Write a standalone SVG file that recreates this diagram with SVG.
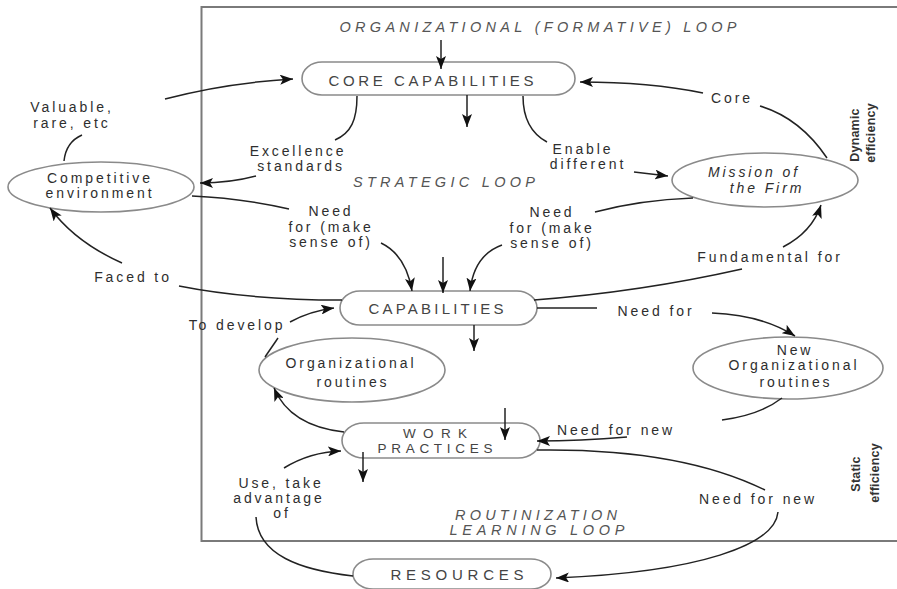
<svg xmlns="http://www.w3.org/2000/svg" width="897" height="589" viewBox="0 0 897 589">
<defs>
<style>
.frame{fill:none;stroke:#7a7a7a;stroke-width:2}
.node{fill:#fff;stroke:#8a8a8a;stroke-width:1.6}
.lbl{font-family:"Liberation Sans",Arial,sans-serif;font-size:14px;letter-spacing:2.9px;fill:#2e2e2e;text-anchor:middle}
.ntxt{font-family:"Liberation Sans",Arial,sans-serif;font-size:15px;fill:#444;text-anchor:middle}
.small{font-size:13.5px}
.it{font-style:italic}
.head{font-family:"Liberation Sans",Arial,sans-serif;font-size:14.5px;font-style:italic;fill:#555;text-anchor:middle}
.side{font-family:"Liberation Sans",Arial,sans-serif;font-size:12.5px;font-weight:bold;fill:#333;text-anchor:middle;letter-spacing:0.2px}
.c{fill:none;stroke:#222;stroke-width:1.5}
.ca{fill:none;stroke:#222;stroke-width:1.5;marker-end:url(#ah)}
</style>
<marker id="ah" markerUnits="userSpaceOnUse" markerWidth="14" markerHeight="10" refX="13" refY="5" orient="auto">
<path d="M0,0 L13,5 L0,10 L3,5 z" fill="#111"/>
</marker>
</defs>
<rect width="897" height="589" fill="#fff"/>
<g id="frame">
<path class="frame" d="M897,7 L201.5,7 L201.5,541 L897,541"/>
</g>
<g id="headings">
<text class="head" x="538" y="32" textLength="397" lengthAdjust="spacing">ORGANIZATIONAL (FORMATIVE) LOOP</text>
<text class="head" x="444" y="187" textLength="182" lengthAdjust="spacing">STRATEGIC LOOP</text>
<text class="head" x="536" y="520" textLength="162" lengthAdjust="spacing">ROUTINIZATION</text>
<text class="head" x="537" y="535" textLength="175" lengthAdjust="spacing">LEARNING LOOP</text>
<text class="side" transform="translate(859,135) rotate(-90)">Dynamic</text>
<text class="side" transform="translate(875,133) rotate(-90)">efficiency</text>
<text class="side" transform="translate(860,474) rotate(-90)">Static</text>
<text class="side" transform="translate(879,473) rotate(-90)">efficiency</text>
</g>
<g id="core-capabilities">
<rect class="node" x="302" y="62" width="273" height="33" rx="20" ry="16.5"/>
<text class="ntxt" x="431" y="86" textLength="205" lengthAdjust="spacing">CORE CAPABILITIES</text>
</g>
<g id="competitive-environment">
<ellipse class="node" cx="101" cy="187" rx="93" ry="25"/>
<text class="lbl" x="100" y="183">Competitive</text>
<text class="lbl" x="100" y="198">environment</text>
</g>
<g id="mission-of-the-firm">
<ellipse class="node" cx="765" cy="180" rx="93" ry="27"/>
<text class="lbl it" x="754" y="177">Mission of</text>
<text class="lbl it" x="767" y="193">the Firm</text>
</g>
<g id="capabilities">
<rect class="node" x="340" y="291" width="197" height="34" rx="20" ry="17"/>
<text class="ntxt" x="436" y="314" textLength="135" lengthAdjust="spacing">CAPABILITIES</text>
</g>
<g id="organizational-routines">
<ellipse class="node" cx="352" cy="370" rx="93" ry="32"/>
<text class="lbl" x="351" y="368">Organizational</text>
<text class="lbl" x="353" y="387">routines</text>
</g>
<g id="new-organizational-routines">
<ellipse class="node" cx="788" cy="368" rx="95" ry="31"/>
<text class="lbl" x="795" y="355">New</text>
<text class="lbl" x="794" y="370">Organizational</text>
<text class="lbl" x="796" y="387">routines</text>
</g>
<g id="work-practices">
<rect class="node" x="342" y="423" width="198" height="35" rx="22" ry="17.5"/>
<text class="ntxt small" x="435" y="438" textLength="64" lengthAdjust="spacing">WORK</text>
<text class="ntxt small" x="435" y="453" textLength="115" lengthAdjust="spacing">PRACTICES</text>
</g>
<g id="resources">
<rect class="node" x="353" y="559" width="198" height="30" rx="20" ry="15"/>
<text class="ntxt" x="457" y="580" textLength="133" lengthAdjust="spacing">RESOURCES</text>
</g>
<g id="connectors">
<path class="ca" d="M441,40 L441,69"/>
<path class="ca" d="M467,95 L467,127"/>
<path class="ca" d="M165,99 Q225,83 293,79"/>
<path class="c" d="M82,135 Q66,142 64,161"/>
<path class="c" d="M357,96 C357,120 351,133 335,140"/>
<path class="ca" d="M256,176 Q230,183 200,183"/>
<path class="c" d="M523,96 C523,120 532,134 547,142"/>
<path class="ca" d="M634,172 L668,176"/>
<path class="c" d="M827,158 Q800,118 760,106"/>
<path class="ca" d="M703,93 Q650,82 580,82"/>
<path class="c" d="M192,196 Q240,198 289,209"/>
<path class="ca" d="M381,243 Q406,255 412,291"/>
<path class="ca" d="M443,257 L443,293"/>
<path class="c" d="M595,212 Q640,200 693,198"/>
<path class="ca" d="M502,245 Q474,255 470,291"/>
<path class="ca" d="M783,247 Q812,232 821,205"/>
<path class="c" d="M534,300 Q640,292 742,269"/>
<path class="c" d="M342,300 Q250,300 179,286"/>
<path class="ca" d="M122,263 Q75,242 50,208"/>
<path class="ca" d="M290,322 Q310,311 334,308"/>
<path class="c" d="M278,338 L265,357"/>
<path class="ca" d="M474,325 L474,351"/>
<path class="c" d="M537,308 L597,308"/>
<path class="ca" d="M712,313 Q762,315 795,336"/>
<path class="c" d="M782,398 Q760,415 722,420"/>
<path class="ca" d="M627,437 Q580,441 537,441"/>
<path class="ca" d="M505,408 L505,440"/>
<path class="ca" d="M363,452 L363,482"/>
<path class="ca" d="M344,432 Q290,426 274,388"/>
<path class="ca" d="M284,468 Q310,452 341,451"/>
<path class="c" d="M256,517 C258,555 300,570 353,576"/>
<path class="c" d="M537,450 Q680,448 765,490"/>
<path class="ca" d="M778,512 C775,545 700,572 556,578"/>
</g>
<g id="labels">
<text class="lbl" x="72" y="112">Valuable,</text>
<text class="lbl" x="72" y="128">rare, etc</text>
<text class="lbl" x="298" y="156">Excellence</text>
<text class="lbl" x="301" y="171">standards</text>
<text class="lbl" x="583" y="154">Enable</text>
<text class="lbl" x="588" y="169">different</text>
<text class="lbl" x="732" y="103">Core</text>
<text class="lbl" x="331" y="216">Need</text>
<text class="lbl" x="331" y="232">for (make</text>
<text class="lbl" x="331" y="247">sense of)</text>
<text class="lbl" x="552" y="217">Need</text>
<text class="lbl" x="552" y="233">for (make</text>
<text class="lbl" x="552" y="248">sense of)</text>
<text class="lbl" x="770" y="262">Fundamental for</text>
<text class="lbl" x="133" y="282">Faced to</text>
<text class="lbl" x="237" y="330">To develop</text>
<text class="lbl" x="656" y="316">Need for</text>
<text class="lbl" x="616" y="435">Need for new</text>
<text class="lbl" x="758" y="504">Need for new</text>
<text class="lbl" x="281" y="488">Use, take</text>
<text class="lbl" x="279" y="503">advantage</text>
<text class="lbl" x="282" y="518">of</text>
</g>
</svg>
